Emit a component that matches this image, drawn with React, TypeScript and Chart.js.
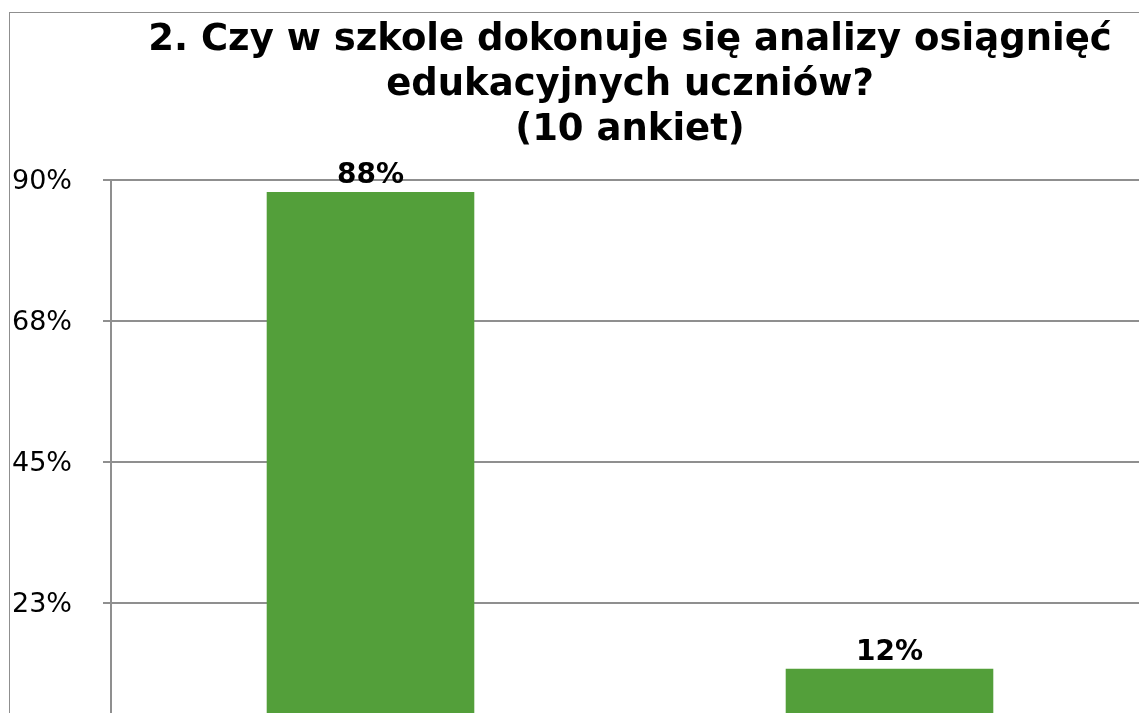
import React, { useEffect, useRef } from "react";
import { Chart, registerables } from "chart.js";

Chart.register(...registerables);

const categories = ["Tak", "Nie"];
const values = [88, 12];
const titleLines = [
  "2. Czy w szkole dokonuje się analizy osiągnięć",
  "edukacyjnych uczniów?",
  "(10 ankiet)",
];
const yMax = 90;
const yStep = 22.5;

const FONT = "'DejaVu Sans', Verdana, sans-serif";
const GRID = "#8f8f8f";
const BAR = "#539f3a";

const labelPlugin = {
  id: "barLabels",
  afterDatasetsDraw(chart: any) {
    const ctx = chart.ctx;
    const meta = chart.getDatasetMeta(0);
    ctx.save();
    ctx.font = `bold 28px ${FONT}`;
    ctx.fillStyle = "#000";
    ctx.textAlign = "center";
    ctx.textBaseline = "alphabetic";
    meta.data.forEach((bar: any, i: number) => {
      ctx.fillText(`${values[i]}%`, bar.x, bar.y - 9);
    });
    ctx.restore();
  },
};

export default function App() {
  const ref = useRef<HTMLCanvasElement>(null);
  useEffect(() => {
    if (!ref.current) return;
    const chart = new Chart(ref.current, {
      type: "bar",
      data: {
        labels: categories,
        datasets: [
          {
            data: values,
            backgroundColor: BAR,
            borderWidth: 0,
            barPercentage: 0.4,
            categoryPercentage: 1,
          },
        ],
      },
      options: {
        responsive: false,
        animation: false,
        devicePixelRatio: 1,
        layout: { padding: { left: 2, right: 61, top: 0, bottom: 0 } },
        plugins: {
          legend: { display: false },
          tooltip: { enabled: false },
          title: {
            display: true,
            fullSize: false,
            text: titleLines,
            color: "#000",
            font: { family: FONT, size: 37, weight: "bold", lineHeight: 45 / 37 },
            padding: { top: 5, bottom: 26.5 },
          },
        },
        scales: {
          x: {
            grid: { display: false },
            border: { display: false },
            ticks: { font: { family: FONT, size: 27 }, color: "#000" },
            afterFit: (s: any) => {
              s.height = 69;
            },
          },
          y: {
            min: 0,
            max: yMax,
            ticks: {
              stepSize: yStep,
              crossAlign: "far",
              labelOffset: 2,
              color: "#000",
              font: { family: FONT, size: 27 },
              callback: (v: any) => `${Math.round(Number(v))}%`,
            },
            grid: { color: GRID, lineWidth: 2, tickLength: 8, drawTicks: true },
            border: { color: GRID, width: 2 },
            afterFit: (s: any) => {
              s.width = 99;
            },
          },
        },
      },
      plugins: [labelPlugin],
    });
    return () => chart.destroy();
  }, []);

  return (
    <div
      style={{
        position: "fixed",
        left: 0,
        top: 0,
        width: 1139,
        height: 713,
        overflow: "hidden",
        background: "#fff",
      }}
    >
      <div
        style={{
          position: "absolute",
          left: 9,
          top: 12,
          width: 1200,
          height: 800,
          borderLeft: `1px solid ${GRID}`,
          borderTop: `1px solid ${GRID}`,
        }}
      >
        <canvas ref={ref} width={1200} height={800} style={{ display: "block", width: 1200, height: 800 }} />
      </div>
    </div>
  );
}
